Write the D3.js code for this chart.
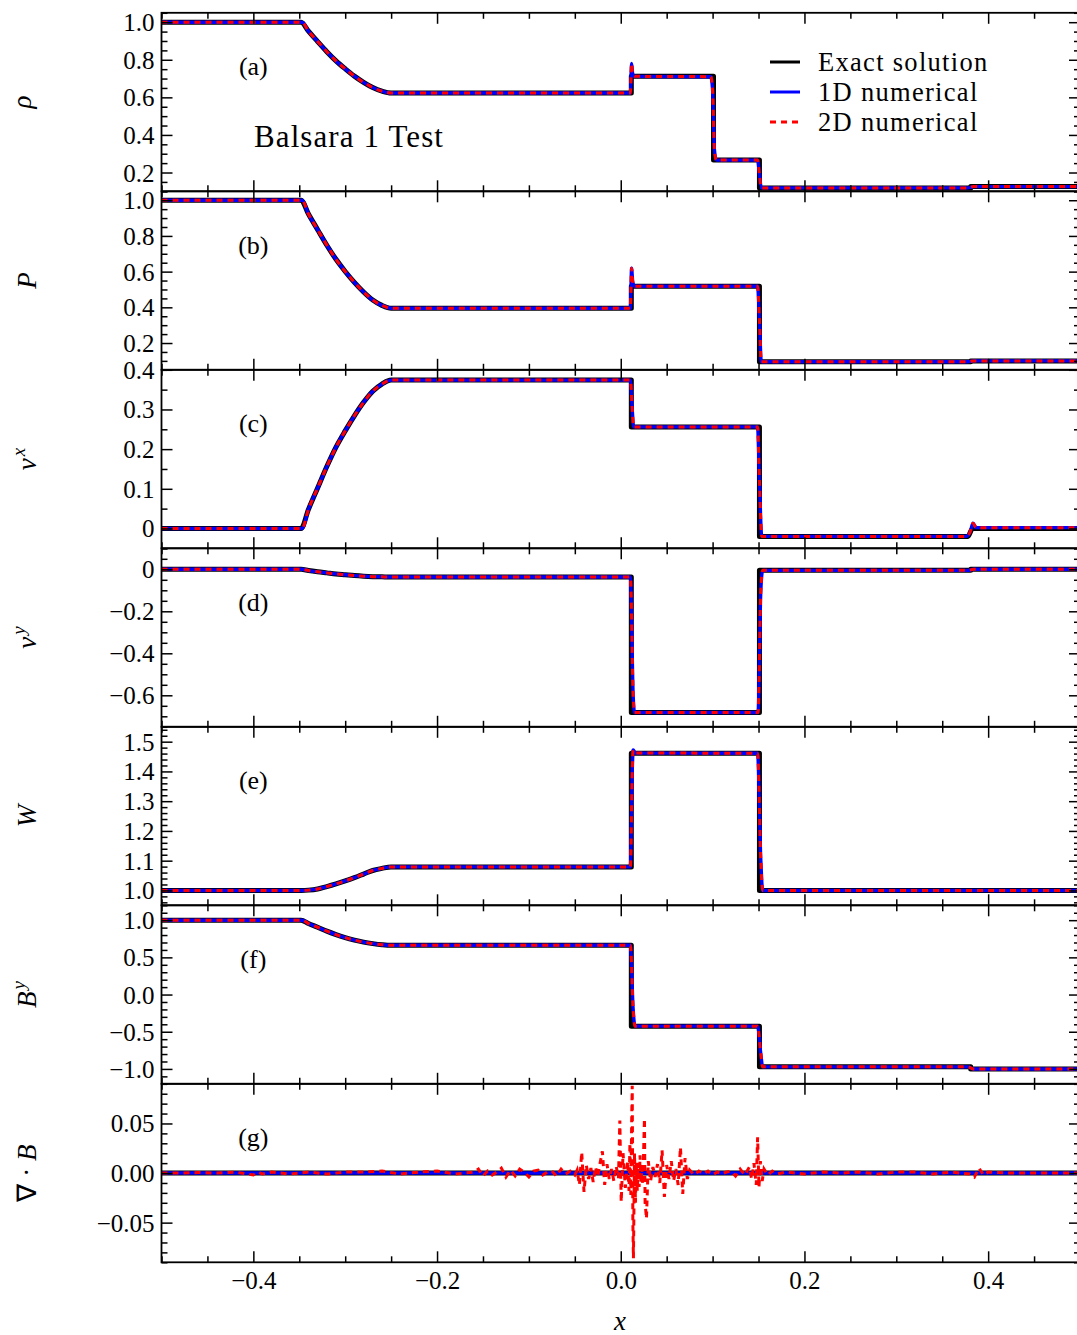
<!DOCTYPE html>
<html><head><meta charset="utf-8">
<script src="https://cdn.jsdelivr.net/npm/d3@7"></script>
<style>body{margin:0;background:#fff}svg{display:block}</style>
</head><body><svg id="c" width="1077" height="1335"></svg>
<script>
// ---------------- DATA ----------------
const xTickVals   = [-0.4, -0.2, 0.0, 0.2, 0.4];
const xTickLabels = ["−0.4", "−0.2", "0.0", "0.2", "0.4"];

// (a) density
const rhoExX  = [-0.5, -0.348, -0.34, -0.33, -0.32, -0.31, -0.30, -0.29, -0.28, -0.27, -0.26, -0.25, 0.0115, 0.0115, 0.101, 0.101, 0.151, 0.151, 0.381, 0.381, 0.5];
const rhoExY  = [1.0, 1.0, 0.952, 0.897, 0.843, 0.794, 0.752, 0.713, 0.680, 0.652, 0.633, 0.623, 0.623, 0.712, 0.712, 0.266, 0.266, 0.118, 0.118, 0.125, 0.125];
const rhoNumX = [-0.5, -0.347, -0.34, -0.33, -0.32, -0.31, -0.30, -0.29, -0.28, -0.27, -0.26, -0.25, 0.0105, 0.0118, 0.013, 0.015, 0.098, 0.100, 0.102, 0.104, 0.149, 0.151, 0.153, 0.378, 0.384, 0.5];
const rhoNumY = [1.0, 1.0, 0.952, 0.897, 0.843, 0.794, 0.752, 0.713, 0.680, 0.652, 0.633, 0.623, 0.623, 0.78, 0.725, 0.712, 0.710, 0.64, 0.32, 0.266, 0.266, 0.19, 0.118, 0.118, 0.125, 0.125];
const rhoTicks = [0.2, 0.4, 0.6, 0.8, 1.0];
const rhoTickLabels = ["0.2", "0.4", "0.6", "0.8", "1.0"];

// (b) pressure
const pExX  = [-0.5, -0.348, -0.34, -0.33, -0.32, -0.31, -0.30, -0.29, -0.28, -0.27, -0.26, -0.25, 0.0115, 0.0115, 0.151, 0.151, 0.381, 0.381, 0.5];
const pExY  = [1.0, 1.0, 0.923, 0.835, 0.748, 0.669, 0.601, 0.540, 0.486, 0.441, 0.411, 0.395, 0.395, 0.518, 0.518, 0.095, 0.095, 0.100, 0.100];
const pNumX = [-0.5, -0.347, -0.34, -0.33, -0.32, -0.31, -0.30, -0.29, -0.28, -0.27, -0.26, -0.25, 0.0105, 0.0118, 0.013, 0.015, 0.149, 0.151, 0.153, 0.378, 0.384, 0.5];
const pNumY = [1.0, 1.0, 0.923, 0.835, 0.748, 0.669, 0.601, 0.540, 0.486, 0.441, 0.411, 0.395, 0.395, 0.619, 0.545, 0.518, 0.518, 0.33, 0.095, 0.095, 0.100, 0.100];
const pTicks = [0.2, 0.4, 0.6, 0.8, 1.0];
const pTickLabels = ["0.2", "0.4", "0.6", "0.8", "1.0"];

// (c) v^x
const vxExX  = [-0.5, -0.348, -0.34, -0.33, -0.32, -0.31, -0.30, -0.29, -0.28, -0.27, -0.26, -0.25, 0.0115, 0.0115, 0.151, 0.151, 0.378, 0.383, 0.5];
const vxExY  = [0, 0, 0.048, 0.102, 0.156, 0.205, 0.246, 0.284, 0.318, 0.346, 0.364, 0.374, 0.374, 0.256, 0.256, -0.020, -0.020, 0.0, 0.0];
const vxNumX = [-0.5, -0.347, -0.34, -0.33, -0.32, -0.31, -0.30, -0.29, -0.28, -0.27, -0.26, -0.25, 0.0105, 0.0125, 0.014, 0.149, 0.151, 0.1535, 0.376, 0.3805, 0.3835, 0.387, 0.5];
const vxNumY = [0, 0, 0.048, 0.102, 0.156, 0.205, 0.246, 0.284, 0.318, 0.346, 0.364, 0.374, 0.374, 0.30, 0.256, 0.256, 0.12, -0.020, -0.020, -0.008, 0.013, 0.002, 0.002];
const vxTicks = [0, 0.1, 0.2, 0.3, 0.4];
const vxTickLabels = ["0", "0.1", "0.2", "0.3", "0.4"];

// (d) v^y
const vyExX  = [-0.5, -0.348, -0.34, -0.33, -0.32, -0.31, -0.30, -0.29, -0.28, -0.27, -0.26, -0.25, 0.0115, 0.0115, 0.151, 0.151, 0.381, 0.381, 0.5];
const vyExY  = [0, 0, -0.006, -0.012, -0.017, -0.022, -0.026, -0.030, -0.033, -0.035, -0.036, -0.037, -0.037, -0.682, -0.682, -0.005, -0.005, 0, 0];
const vyNumX = [-0.5, -0.347, -0.34, -0.33, -0.32, -0.31, -0.30, -0.29, -0.28, -0.27, -0.26, -0.25, 0.0105, 0.0135, 0.0150, 0.1495, 0.1525, 0.1545, 0.378, 0.384, 0.5];
const vyNumY = [0, 0, -0.006, -0.012, -0.017, -0.022, -0.026, -0.030, -0.033, -0.035, -0.036, -0.037, -0.037, -0.60, -0.682, -0.682, -0.10, -0.005, -0.005, 0, 0];
const vyTicks = [-0.6, -0.4, -0.2, 0];
const vyTickLabels = ["−0.6", "−0.4", "−0.2", "0"];

// (e) Lorentz factor W
const wExX  = [-0.5, -0.348, -0.34, -0.33, -0.32, -0.31, -0.30, -0.29, -0.28, -0.27, -0.26, -0.25, 0.0115, 0.0115, 0.151, 0.151, 0.5];
const wExY  = [1.0, 1.0, 1.001, 1.005, 1.013, 1.022, 1.032, 1.043, 1.055, 1.067, 1.074, 1.079, 1.079, 1.461, 1.461, 1.0, 1.0];
const wNumX = [-0.5, -0.347, -0.34, -0.33, -0.32, -0.31, -0.30, -0.29, -0.28, -0.27, -0.26, -0.25, 0.0105, 0.0125, 0.0135, 0.016, 0.149, 0.1525, 0.1545, 0.5];
const wNumY = [1.0, 1.0, 1.001, 1.005, 1.013, 1.022, 1.032, 1.043, 1.055, 1.067, 1.074, 1.079, 1.079, 1.40, 1.472, 1.462, 1.461, 1.10, 1.0, 1.0];
const wTicks = [1.0, 1.1, 1.2, 1.3, 1.4, 1.5];
const wTickLabels = ["1.0", "1.1", "1.2", "1.3", "1.4", "1.5"];

// (f) B^y
const byExX  = [-0.5, -0.348, -0.34, -0.33, -0.32, -0.31, -0.30, -0.29, -0.28, -0.27, -0.26, -0.25, 0.0115, 0.0115, 0.151, 0.151, 0.381, 0.381, 0.5];
const byExY  = [1.0, 1.0, 0.955, 0.905, 0.852, 0.806, 0.765, 0.732, 0.705, 0.685, 0.670, 0.662, 0.662, -0.425, -0.425, -0.972, -0.972, -1.0, -1.0];
const byNumX = [-0.5, -0.347, -0.34, -0.33, -0.32, -0.31, -0.30, -0.29, -0.28, -0.27, -0.26, -0.25, 0.0105, 0.0135, 0.0155, 0.149, 0.1525, 0.1545, 0.378, 0.384, 0.5];
const byNumY = [1.0, 1.0, 0.955, 0.905, 0.852, 0.806, 0.765, 0.732, 0.705, 0.685, 0.670, 0.662, 0.662, -0.20, -0.425, -0.425, -0.80, -0.972, -0.972, -1.0, -1.0];
const byTicks = [-1.0, -0.5, 0.0, 0.5, 1.0];
const byTickLabels = ["−1.0", "−0.5", "0.0", "0.5", "1.0"];

// (g) div B
const divExX = [-0.5, 0.5];
const divExY = [0, 0];
const div2DX = [-0.5, -0.48, -0.46, -0.44, -0.42, -0.40, -0.395, -0.39, -0.38, -0.36, -0.34, -0.32, -0.30, -0.28, -0.26, -0.24, -0.22, -0.20, -0.18, -0.16,
  -0.155, -0.15, -0.145, -0.14, -0.135, -0.13, -0.125, -0.12, -0.115, -0.11, -0.105, -0.10, -0.095, -0.09, -0.085, -0.08, -0.075, -0.07, -0.065, -0.06, -0.055, -0.05,
  -0.0475, -0.045, -0.0425, -0.04, -0.0375, -0.035, -0.0325, -0.03, -0.0275, -0.025, -0.0225, -0.02, -0.0175, -0.015, -0.0125, -0.01, -0.0075, -0.005, -0.0025,
  -0.001, 0.0005, 0.0025, 0.005, 0.0075, 0.009, 0.010, 0.011, 0.012, 0.0125, 0.0132, 0.0138, 0.015, 0.016, 0.017, 0.018, 0.019, 0.020, 0.021, 0.022, 0.023, 0.024,
  0.025, 0.0258, 0.0265, 0.028, 0.030, 0.0325, 0.035, 0.0375, 0.040, 0.0425, 0.045, 0.0475, 0.050, 0.0525, 0.055, 0.0575, 0.060, 0.0625, 0.065, 0.0675, 0.070, 0.0725, 0.075,
  0.08, 0.085, 0.09, 0.095, 0.10, 0.105, 0.11, 0.115, 0.12, 0.125, 0.13, 0.135, 0.14, 0.1425, 0.145, 0.1475, 0.149, 0.1505, 0.152, 0.154, 0.156, 0.16, 0.165, 0.17,
  0.18, 0.20, 0.22, 0.24, 0.26, 0.28, 0.30, 0.32, 0.34, 0.36, 0.38, 0.385, 0.39, 0.395, 0.40, 0.42, 0.45, 0.5];
const div2DY = [0, 0, 0.0005, 0, 0.001, -0.002, 0.001, -0.001, 0.001, -0.001, 0.001, -0.001, 0.001, 0.001, 0.002, -0.001, 0.001, 0.002, -0.001, 0.001,
  0.004, -0.003, 0.002, -0.002, 0.001, 0.005, -0.004, 0.003, -0.003, 0.004, 0.001, -0.004, 0.002, 0.003, -0.002, 0.001, 0.002, -0.003, 0.004, -0.001, 0.002, -0.002,
  0.003, -0.012, 0.021, -0.019, 0.008, -0.006, 0.005, -0.009, 0.006, -0.004, 0.010, 0.022, -0.012, 0.009, -0.006, 0.004, -0.008, 0.007, -0.005,
  0.053, -0.029, 0.020, -0.015, 0.012, -0.018, 0.030, -0.022, 0.060, 0.088, -0.050, -0.086, 0.020, -0.030, 0.012, -0.018, 0.010, -0.014, 0.018, -0.010, 0.006, -0.012, 0.025,
  0.055, -0.030, -0.046, 0.012, -0.008, 0.006, -0.004, 0.009, -0.010, 0.023, -0.024, 0.008, -0.006, 0.012, -0.008, 0.004, -0.012, 0.026, -0.021, 0.015, -0.006, 0.003,
  -0.002, 0.002, -0.001, 0.002, -0.002, 0.001, -0.001, 0.001, 0.002, -0.003, 0.004, -0.002, 0.006, -0.006, 0.010, -0.012, 0.036, -0.014, 0.012, -0.008, 0.004, -0.002, 0.002, -0.001,
  0.001, -0.001, 0.001, 0, 0.001, -0.001, 0.001, 0.001, -0.001, 0.001, -0.001, -0.004, 0.005, -0.002, 0.001, 0, 0, 0];
const divTicks = [-0.05, 0.0, 0.05];
const divTickLabels = ["−0.05", "0.00", "0.05"];

const legendLabels = ["Exact solution", "1D numerical", "2D numerical"];
const panelTags = ["(a)", "(b)", "(c)", "(d)", "(e)", "(f)", "(g)"];
const titleText = "Balsara 1 Test";

// ---------------- LAYOUT ----------------
const FONT = "'Liberation Serif','Times New Roman',serif";
const zip = (xs, ys) => xs.map((v, i) => [v, ys[i]]);
const panels = [
  {ex: zip(rhoExX, rhoExY), n1: zip(rhoNumX, rhoNumY), dom: [0.1, 1.05], ticks: rhoTicks, labels: rhoTickLabels, minor: 0.05,
   ylab: [{t: "ρ", i: true}], bx: 31},
  {ex: zip(pExX, pExY), n1: zip(pNumX, pNumY), dom: [0.05, 1.05], ticks: pTicks, labels: pTickLabels, minor: 0.05,
   ylab: [{t: "P", i: true}], bx: 36},
  {ex: zip(vxExX, vxExY), n1: zip(vxNumX, vxNumY), dom: [-0.05, 0.4], ticks: vxTicks, labels: vxTickLabels, minor: 0.05,
   ylab: [{t: "v", i: true}, {t: "x", i: true, sup: true}], bx: 36},
  {ex: zip(vyExX, vyExY), n1: zip(vyNumX, vyNumY), dom: [-0.75, 0.1], ticks: vyTicks, labels: vyTickLabels, minor: 0.05,
   ylab: [{t: "v", i: true}, {t: "y", i: true, sup: true}], bx: 36},
  {ex: zip(wExX, wExY), n1: zip(wNumX, wNumY), dom: [0.95, 1.55], ticks: wTicks, labels: wTickLabels, minor: 0.02,
   ylab: [{t: "W", i: true}], bx: 36},
  {ex: zip(byExX, byExY), n1: zip(byNumX, byNumY), dom: [-1.2, 1.2], ticks: byTicks, labels: byTickLabels, minor: 0.1,
   ylab: [{t: "B", i: true}, {t: "y", i: true, sup: true}], bx: 36},
  {ex: zip(divExX, divExY), n1: zip(divExX, divExY), n2: zip(div2DX, div2DY), dom: [-0.09, 0.09], ticks: divTicks, labels: divTickLabels, minor: 0.01,
   ylab: [{t: "∇", i: false}, {t: " · ", i: false}, {t: "B", i: true}], bx: 36, linear2: true}
];

const svg = d3.select("#c");
const L = 161.5, R = 1080, top0 = 12.8, ph = 178.5;
const x = d3.scaleLinear().domain([-0.5, 0.5]).range([L, R]);

function minorVals(lo, hi, step, majors) {
  const a = Math.ceil(lo / step - 1e-9), b = Math.floor(hi / step + 1e-9);
  return d3.range(a, b + 1).map(k => +(k * step).toFixed(6))
    .filter(v => !majors.some(m => Math.abs(m - v) < step * 0.01));
}
const xMinor = minorVals(-0.5, 0.5, 0.05, xTickVals);

function styleAxis(s) {
  s.select(".domain").remove();
  s.attr("font-family", FONT).attr("font-size", 25);
  s.selectAll(".tick line").attr("stroke", "#000").attr("stroke-width", 1.5);
  s.selectAll(".tick text").attr("fill", "#000");
}

const frames = svg.append("g");
panels.forEach((p, i) => {
  const t = top0 + i * ph, b = t + ph;
  const y = d3.scaleLinear().domain(p.dom).range([b, t]);
  const g = svg.append("g");
  const cid = "clip" + i;
  svg.append("clipPath").attr("id", cid).append("rect")
    .attr("x", L).attr("y", t).attr("width", R - L).attr("height", ph);
  const lg = g.append("g").attr("clip-path", `url(#${cid})`);
  const line = d3.line().x(d => x(d[0])).y(d => y(d[1])).curve(d3.curveMonotoneX);
  const lineLin = d3.line().x(d => x(d[0])).y(d => y(d[1]));
  lg.append("path").datum(p.ex).attr("d", line).attr("fill", "none")
    .attr("stroke", "#000").attr("stroke-width", 5).attr("stroke-linejoin", "round").attr("stroke-linecap", "round");
  lg.append("path").datum(p.n1).attr("d", line).attr("fill", "none")
    .attr("stroke", "#0000ff").attr("stroke-width", 3.4).attr("stroke-linejoin", "round");
  lg.append("path").datum(p.n2 || p.n1).attr("d", p.linear2 ? lineLin : line).attr("fill", "none")
    .attr("stroke", "#ff0000").attr("stroke-width", 3).attr("stroke-dasharray", "6,5");

  // x ticks (inward), top and bottom
  const last = i === panels.length - 1;
  g.append("g").attr("transform", `translate(0,${b})`)
    .call(d3.axisBottom(x).tickValues(xTickVals).tickSize(-11).tickPadding(9)
      .tickFormat((d, j) => last ? xTickLabels[j] : "")).call(styleAxis);
  g.append("g").attr("transform", `translate(0,${b})`)
    .call(d3.axisBottom(x).tickValues(xMinor).tickSize(-6).tickFormat("")).call(styleAxis);
  g.append("g").attr("transform", `translate(0,${t})`)
    .call(d3.axisTop(x).tickValues(xTickVals).tickSize(-11).tickFormat("")).call(styleAxis);
  g.append("g").attr("transform", `translate(0,${t})`)
    .call(d3.axisTop(x).tickValues(xMinor).tickSize(-6).tickFormat("")).call(styleAxis);

  // y ticks
  const yMinor = minorVals(p.dom[0], p.dom[1], p.minor, p.ticks);
  g.append("g").attr("transform", `translate(${L},0)`)
    .call(d3.axisLeft(y).tickValues(p.ticks).tickSize(-11).tickPadding(7)
      .tickFormat((d, j) => p.labels[j])).call(styleAxis)
    .selectAll(".tick text").attr("dy", "0.34em");
  g.append("g").attr("transform", `translate(${L},0)`)
    .call(d3.axisLeft(y).tickValues(yMinor).tickSize(-6).tickFormat("")).call(styleAxis);
  g.append("g").attr("transform", `translate(${R},0)`)
    .call(d3.axisRight(y).tickValues(p.ticks).tickSize(-11).tickFormat("")).call(styleAxis);
  g.append("g").attr("transform", `translate(${R},0)`)
    .call(d3.axisRight(y).tickValues(yMinor).tickSize(-6).tickFormat("")).call(styleAxis);

  // frame
  frames.append("rect").attr("x", L).attr("y", t).attr("width", R - L).attr("height", ph)
    .attr("fill", "none").attr("stroke", "#000").attr("stroke-width", 1.8);

  // panel tag
  g.append("text").attr("x", x(-0.4)).attr("y", t + 62.5).attr("text-anchor", "middle")
    .attr("font-family", FONT).attr("font-size", 26).text(panelTags[i]);

  // y label (rotated)
  const cy = (t + b) / 2;
  const yt = svg.append("text").attr("x", p.bx).attr("y", cy)
    .attr("transform", `rotate(-90,${p.bx},${cy})`).attr("text-anchor", "middle")
    .attr("font-family", FONT).attr("font-size", 27);
  p.ylab.forEach(part => {
    const ts = yt.append("tspan").text(part.t).attr("font-style", part.i ? "italic" : "normal");
    if (part.sup) ts.attr("font-size", 19).attr("dx", 2).attr("dy", -11);
  });
});
frames.raise();

// title
svg.append("text").attr("x", 254).attr("y", 146.5).attr("font-family", FONT).attr("font-size", 31)
  .attr("letter-spacing", 1.1).text(titleText);

// legend
const legStyles = [
  {c: "#000", w: 3, d: null},
  {c: "#0000ff", w: 3, d: null},
  {c: "#ff0000", w: 3, d: "6,5"}
];
legendLabels.forEach((lab, k) => {
  const yy = 62 + k * 30;
  const ln = svg.append("line").attr("x1", 770).attr("x2", 800).attr("y1", yy).attr("y2", yy)
    .attr("stroke", legStyles[k].c).attr("stroke-width", legStyles[k].w);
  if (legStyles[k].d) ln.attr("stroke-dasharray", legStyles[k].d);
  svg.append("text").attr("x", 818).attr("y", yy + 8.5).attr("font-family", FONT).attr("font-size", 26.5)
    .attr("letter-spacing", 1.3).text(lab);
});

// x axis label
svg.append("text").attr("x", 620).attr("y", 1330).attr("text-anchor", "middle")
  .attr("font-family", FONT).attr("font-size", 27).attr("font-style", "italic").text("x");
</script></body></html>
